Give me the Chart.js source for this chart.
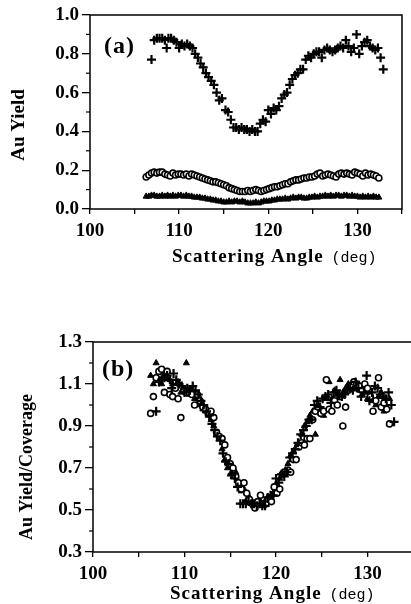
<!DOCTYPE html>
<html>
<head>
<meta charset="utf-8">
<script src="https://cdn.jsdelivr.net/npm/chart.js@4.4.1/dist/chart.umd.min.js"></script>
<style>
  html, body { margin: 0; padding: 0; background: #fff; overflow: hidden; width: 411px; height: 604px; }
  #wrapA { position: absolute; left: 0; top: 0; width: 411px; height: 295px; }
  #wrapB { position: absolute; left: 0; top: 300px; width: 420px; height: 304px; }
</style>
</head>
<body>
<div id="wrapA"><canvas id="chartA"></canvas></div>
<div id="wrapB"><canvas id="chartB"></canvas></div>
<script>
// scattering angles (deg) of the "+" scans
var anglesCross = [
  106.9, 107.2, 107.5, 107.8, 108.1, 108.4, 108.6, 108.8, 109.1, 109.4,
  109.7, 110.0, 110.3, 110.6, 110.9, 111.2, 111.5, 111.8, 112.1, 112.4,
  112.7, 113.0, 113.3, 113.6, 113.9, 114.2, 114.5, 114.8, 115.2, 115.5,
  115.8, 116.1, 116.4, 116.7, 117.0, 117.3, 117.6, 117.9, 118.2, 118.5,
  118.8, 119.1, 119.4, 119.7, 120.0, 120.3, 120.6, 120.9, 121.2, 121.5,
  121.8, 122.1, 122.4, 122.7, 123.0, 123.3, 123.6, 123.9, 124.2, 124.5,
  124.8, 125.1, 125.4, 125.7, 126.0, 126.3, 126.6, 126.9, 127.2, 127.5,
  127.8, 128.1, 128.4, 128.7, 129.0, 129.3, 129.6, 129.9, 130.2, 130.5,
  130.8, 131.1, 131.4, 131.7, 132.0, 132.3, 132.6, 132.9
];
// scattering angles (deg) of the circle and triangle scans
var anglesLow = [
  106.3, 106.6, 106.9, 107.2, 107.5, 107.8, 108.1, 108.4, 108.7, 109.0,
  109.3, 109.6, 109.9, 110.2, 110.5, 110.8, 111.1, 111.4, 111.7, 112.0,
  112.3, 112.6, 112.9, 113.2, 113.5, 113.8, 114.1, 114.4, 114.7, 115.0,
  115.3, 115.6, 115.9, 116.2, 116.5, 116.8, 117.1, 117.4, 117.7, 118.0,
  118.3, 118.6, 118.9, 119.2, 119.5, 119.8, 120.1, 120.4, 120.7, 121.0,
  121.3, 121.6, 121.9, 122.2, 122.5, 122.8, 123.1, 123.4, 123.7, 124.0,
  124.3, 124.6, 124.9, 125.2, 125.5, 125.8, 126.1, 126.4, 126.7, 127.0,
  127.3, 127.6, 127.9, 128.2, 128.5, 128.8, 129.1, 129.4, 129.7, 130.0,
  130.3, 130.6, 130.9, 131.2, 131.5, 131.8, 132.1, 132.4
];

// (a) Au yield
var yieldCross = [
  0.77, 0.87, 0.88, 0.88, 0.88, 0.87, 0.83, 0.88, 0.88, 0.87,
  0.86, 0.83, 0.85, 0.84, 0.85, 0.84, 0.83, 0.80, 0.78, 0.75,
  0.73, 0.70, 0.68, 0.66, 0.64, 0.60, 0.56, 0.57, 0.51, 0.50,
  0.46, 0.42, 0.42, 0.41, 0.42, 0.41, 0.41, 0.40, 0.41, 0.40,
  0.40, 0.44, 0.46, 0.45, 0.51, 0.49, 0.52, 0.51, 0.53, 0.57,
  0.59, 0.60, 0.64, 0.67, 0.69, 0.70, 0.72, 0.72, 0.77, 0.79,
  0.78, 0.80, 0.81, 0.81, 0.78, 0.82, 0.83, 0.82, 0.81, 0.82,
  0.83, 0.84, 0.83, 0.87, 0.84, 0.81, 0.83, 0.90, 0.80, 0.84,
  0.86, 0.87, 0.84, 0.83, 0.82, 0.83, 0.78, 0.72
];
var yieldCircle = [
  0.165, 0.175, 0.185, 0.19, 0.185, 0.19, 0.19, 0.18, 0.175, 0.17,
  0.185, 0.175, 0.18, 0.18, 0.175, 0.18, 0.17, 0.18, 0.175, 0.17,
  0.165, 0.16, 0.155, 0.15, 0.145, 0.14, 0.14, 0.135, 0.13, 0.125,
  0.12, 0.11, 0.105, 0.10, 0.095, 0.09, 0.09, 0.09, 0.095, 0.09,
  0.095, 0.10, 0.095, 0.09, 0.095, 0.10, 0.105, 0.11, 0.115, 0.115,
  0.12, 0.125, 0.13, 0.13, 0.14, 0.145, 0.15, 0.15, 0.155, 0.16,
  0.16, 0.165, 0.165, 0.17, 0.18, 0.185, 0.17, 0.175, 0.18, 0.175,
  0.17, 0.165, 0.18, 0.185, 0.18, 0.185, 0.18, 0.175, 0.19, 0.185,
  0.18, 0.17, 0.185, 0.175, 0.18, 0.175, 0.17, 0.16
];
var yieldTriangle = [
  0.065, 0.065, 0.07, 0.07, 0.065, 0.065, 0.07, 0.065, 0.07, 0.065,
  0.07, 0.065, 0.07, 0.07, 0.065, 0.07, 0.065, 0.065, 0.06, 0.06,
  0.06, 0.055, 0.055, 0.05, 0.05, 0.045, 0.045, 0.04, 0.04, 0.035,
  0.035, 0.04, 0.035, 0.04, 0.04, 0.035, 0.04, 0.035, 0.03, 0.03,
  0.03, 0.035, 0.03, 0.035, 0.04, 0.04, 0.04, 0.045, 0.045, 0.05,
  0.05, 0.05, 0.055, 0.05, 0.055, 0.06, 0.055, 0.06, 0.06, 0.055,
  0.055, 0.06, 0.06, 0.065, 0.06, 0.065, 0.065, 0.07, 0.065, 0.07,
  0.065, 0.07, 0.07, 0.065, 0.07, 0.07, 0.065, 0.07, 0.065, 0.065,
  0.06, 0.065, 0.06, 0.065, 0.06, 0.065, 0.06, 0.06
];

// (b) Au yield / coverage
var ratioCross = [
  0.97, 1.11, 1.12, 1.13, 1.14, 1.12, 1.08, 1.15, 1.12, 1.10,
  1.09, 1.06, 1.08, 1.07, 1.09, 1.07, 1.05, 1.02, 1.00, 0.97,
  0.95, 0.91, 0.88, 0.85, 0.83, 0.77, 0.73, 0.72, 0.67, 0.65,
  0.61, 0.53, 0.53, 0.53, 0.54, 0.53, 0.53, 0.52, 0.53, 0.52,
  0.52, 0.56, 0.57, 0.57, 0.65, 0.63, 0.67, 0.66, 0.68, 0.75,
  0.77, 0.79, 0.82, 0.86, 0.88, 0.90, 0.93, 0.93, 1.00, 1.02,
  0.99, 1.03, 1.04, 1.05, 1.01, 1.06, 1.07, 1.05, 1.04, 1.05,
  1.07, 1.08, 1.07, 1.11, 1.08, 1.04, 1.06, 1.14, 1.02, 1.06,
  1.09, 1.08, 1.05, 1.04, 1.03, 1.06, 1.00, 0.92
];
var ratioCircle = [
  0.96, 1.04, 1.13, 1.16, 1.17, 1.06, 1.16, 1.05, 1.04, 1.08,
  1.03, 0.94, 1.07, 1.06, 1.06, 1.05, 1.00, 1.05, 1.02, 0.99,
  0.98, 0.96, 0.97, 0.94, 0.87, 0.85, 0.84, 0.81, 0.75, 0.72,
  0.70, 0.66, 0.63, 0.60, 0.63, 0.58, 0.55, 0.53, 0.51, 0.54,
  0.57, 0.53, 0.53, 0.55, 0.54, 0.61, 0.58, 0.60, 0.67, 0.68,
  0.69, 0.68, 0.74, 0.74, 0.80, 0.82, 0.81, 0.84, 0.84, 0.93,
  0.97, 0.99, 0.96, 0.97, 1.12, 0.98, 0.97, 1.02, 1.00, 1.04,
  0.90, 0.99, 1.07, 1.09, 1.11, 1.10, 1.09, 1.07, 1.10, 1.08,
  1.04, 0.97, 1.02, 1.13, 0.99, 1.01, 0.98, 0.91
];
var ratioTriangle = [
  1.14, 1.10, 1.20, 1.12, 1.10, 1.15, 1.16, 1.12, 1.10, 1.08,
  1.11, 1.06, 1.07, 1.20, 1.05, 1.07, 1.03, 1.04, 1.00, 0.98,
  0.97, 0.95, 0.93, 0.90, 0.86, 0.84, 0.79, 0.74, 0.70, 0.67,
  0.66, 0.68, 0.62, 0.59, 0.60, 0.55, 0.56, 0.53, 0.52, 0.53,
  0.54, 0.52, 0.55, 0.56, 0.57, 0.59, 0.62, 0.65, 0.68, 0.69,
  0.72, 0.76, 0.78, 0.80, 0.82, 0.86, 0.90, 0.92, 0.95, 0.97,
  0.86, 1.00, 0.96, 0.95, 1.03, 1.11, 1.03, 1.07, 1.05, 1.12,
  1.06, 1.08, 1.10, 1.09, 1.11, 1.08, 1.07, 1.05, 1.06, 1.03,
  1.05, 1.02, 1.00, 1.04, 1.06, 0.97, 0.99, 1.03
];

// axis ticks
var xTicks = [100, 105, 110, 115, 120, 125, 130, 135];
var xTickLabels = ['100', '', '110', '', '120', '', '130', ''];
var yTicksA = [0.0, 0.2, 0.4, 0.6, 0.8, 1.0];
var yMinorA = [0.1, 0.3, 0.5, 0.7, 0.9];
var yTicksB = [0.3, 0.5, 0.7, 0.9, 1.1, 1.3];
var yMinorB = [0.4, 0.6, 0.8, 1.0, 1.2];

var serif = '"Liberation Serif", "Times New Roman", serif';

function pts(xs, ys) {
  return xs.map(function (x, i) { return { x: x, y: ys[i] }; });
}

// frame, minor ticks, panel letter and axis titles
var decoPlugin = {
  id: 'deco',
  afterDraw: function (chart, args, o) {
    var ctx = chart.ctx, a = chart.chartArea, ys = chart.scales.y;
    ctx.save();
    ctx.strokeStyle = '#000';
    ctx.lineWidth = 1.5;
    ctx.strokeRect(a.left, a.top, a.right - a.left, a.bottom - a.top);
    ctx.lineWidth = 1.2;
    o.minorY.forEach(function (v) {
      var p = ys.getPixelForValue(v);
      ctx.beginPath(); ctx.moveTo(a.left - 4, p); ctx.lineTo(a.left, p); ctx.stroke();
    });
    ctx.fillStyle = '#000';
    ctx.textAlign = 'left';
    ctx.textBaseline = 'middle';
    ctx.font = 'bold 24px ' + serif;
    ctx.letterSpacing = '1px';
    ctx.fillText(o.label, o.labelX, o.labelY);

    ctx.save();
    ctx.translate(o.yTitleX, o.yTitleY);
    ctx.rotate(-Math.PI / 2);
    ctx.textAlign = 'center';
    ctx.font = 'bold ' + o.yTitleSize + 'px ' + serif;
    ctx.letterSpacing = '0px';
    ctx.fillText(o.yTitle, 0, 0);
    ctx.restore();

    ctx.textBaseline = 'alphabetic';
    ctx.font = 'bold 19px ' + serif;
    ctx.letterSpacing = '1px';
    ctx.fillText('Scattering Angle', o.xTitleX, o.xTitleY);
    var w = ctx.measureText('Scattering Angle').width;
    ctx.font = '15px "Liberation Mono", "Courier New", monospace';
    ctx.letterSpacing = '0px';
    ctx.fillText('(deg)', o.xTitleX + w + 8, o.xTitleY);
    ctx.restore();
  }
};

function makeConfig(cross, circle, tri, yTicks, yMin, yMax, pad, yWidth, xHeight, decoOpts) {
  return {
    type: 'scatter',
    data: {
      datasets: [
        { data: pts(anglesCross, cross), pointStyle: 'cross', pointRadius: 4.5,
          borderColor: '#000', borderWidth: 2.2, backgroundColor: '#000' },
        { data: pts(anglesLow, circle), pointStyle: 'circle', pointRadius: 3,
          borderColor: '#000', borderWidth: 1.6, backgroundColor: '#fff' },
        { data: pts(anglesLow, tri), pointStyle: 'triangle', pointRadius: 3.5,
          borderColor: '#000', borderWidth: 1, backgroundColor: '#000' }
      ]
    },
    options: {
      responsive: true,
      maintainAspectRatio: false,
      animation: false,
      events: [],
      layout: { padding: pad },
      plugins: { legend: { display: false }, tooltip: { enabled: false }, deco: decoOpts },
      scales: {
        x: {
          type: 'linear', min: 100, max: 135,
          afterBuildTicks: function (s) { s.ticks = xTicks.map(function (v) { return { value: v }; }); },
          afterFit: function (s) { s.height = xHeight; },
          ticks: {
            autoSkip: false, maxRotation: 0, padding: 6, color: '#000',
            font: { family: serif, size: 19, weight: 'bold' },
            callback: function (v, i) { return xTickLabels[i]; }
          },
          grid: { drawOnChartArea: false, tickLength: 5, color: '#000', lineWidth: 1.3 },
          border: { display: false }
        },
        y: {
          min: yMin, max: yMax,
          afterBuildTicks: function (s) { s.ticks = yTicks.map(function (v) { return { value: v }; }); },
          afterFit: function (s) { s.width = yWidth; },
          ticks: {
            padding: 3, color: '#000',
            font: { family: serif, size: 19, weight: 'bold' },
            callback: function (v) { return v.toFixed(1); }
          },
          grid: { drawOnChartArea: false, tickLength: 8, color: '#000', lineWidth: 1.3 },
          border: { display: false }
        }
      }
    },
    plugins: [decoPlugin]
  };
}

var configA = makeConfig(yieldCross, yieldCircle, yieldTriangle, yTicksA, 0, 1.0,
  { top: 15, right: 9, bottom: 0, left: 0 }, 90, 86,
  { label: '(a)', labelX: 104, labelY: 47, yTitle: 'Au Yield', yTitleX: 19, yTitleY: 125, yTitleSize: 19,
    xTitleX: 172, xTitleY: 262, minorY: yMinorA });
new Chart(document.getElementById('chartA').getContext('2d'), configA);

var configB = makeConfig(ratioCross, ratioCircle, ratioTriangle, yTicksB, 0.3, 1.3,
  { top: 42, right: 6, bottom: 0, left: 0 }, 93, 52,
  { label: '(b)', labelX: 102, labelY: 70, yTitle: 'Au Yield/Coverage', yTitleX: 27, yTitleY: 167, yTitleSize: 18,
    xTitleX: 170, xTitleY: 299, minorY: yMinorB });
new Chart(document.getElementById('chartB').getContext('2d'), configB);
</script>
</body>
</html>
